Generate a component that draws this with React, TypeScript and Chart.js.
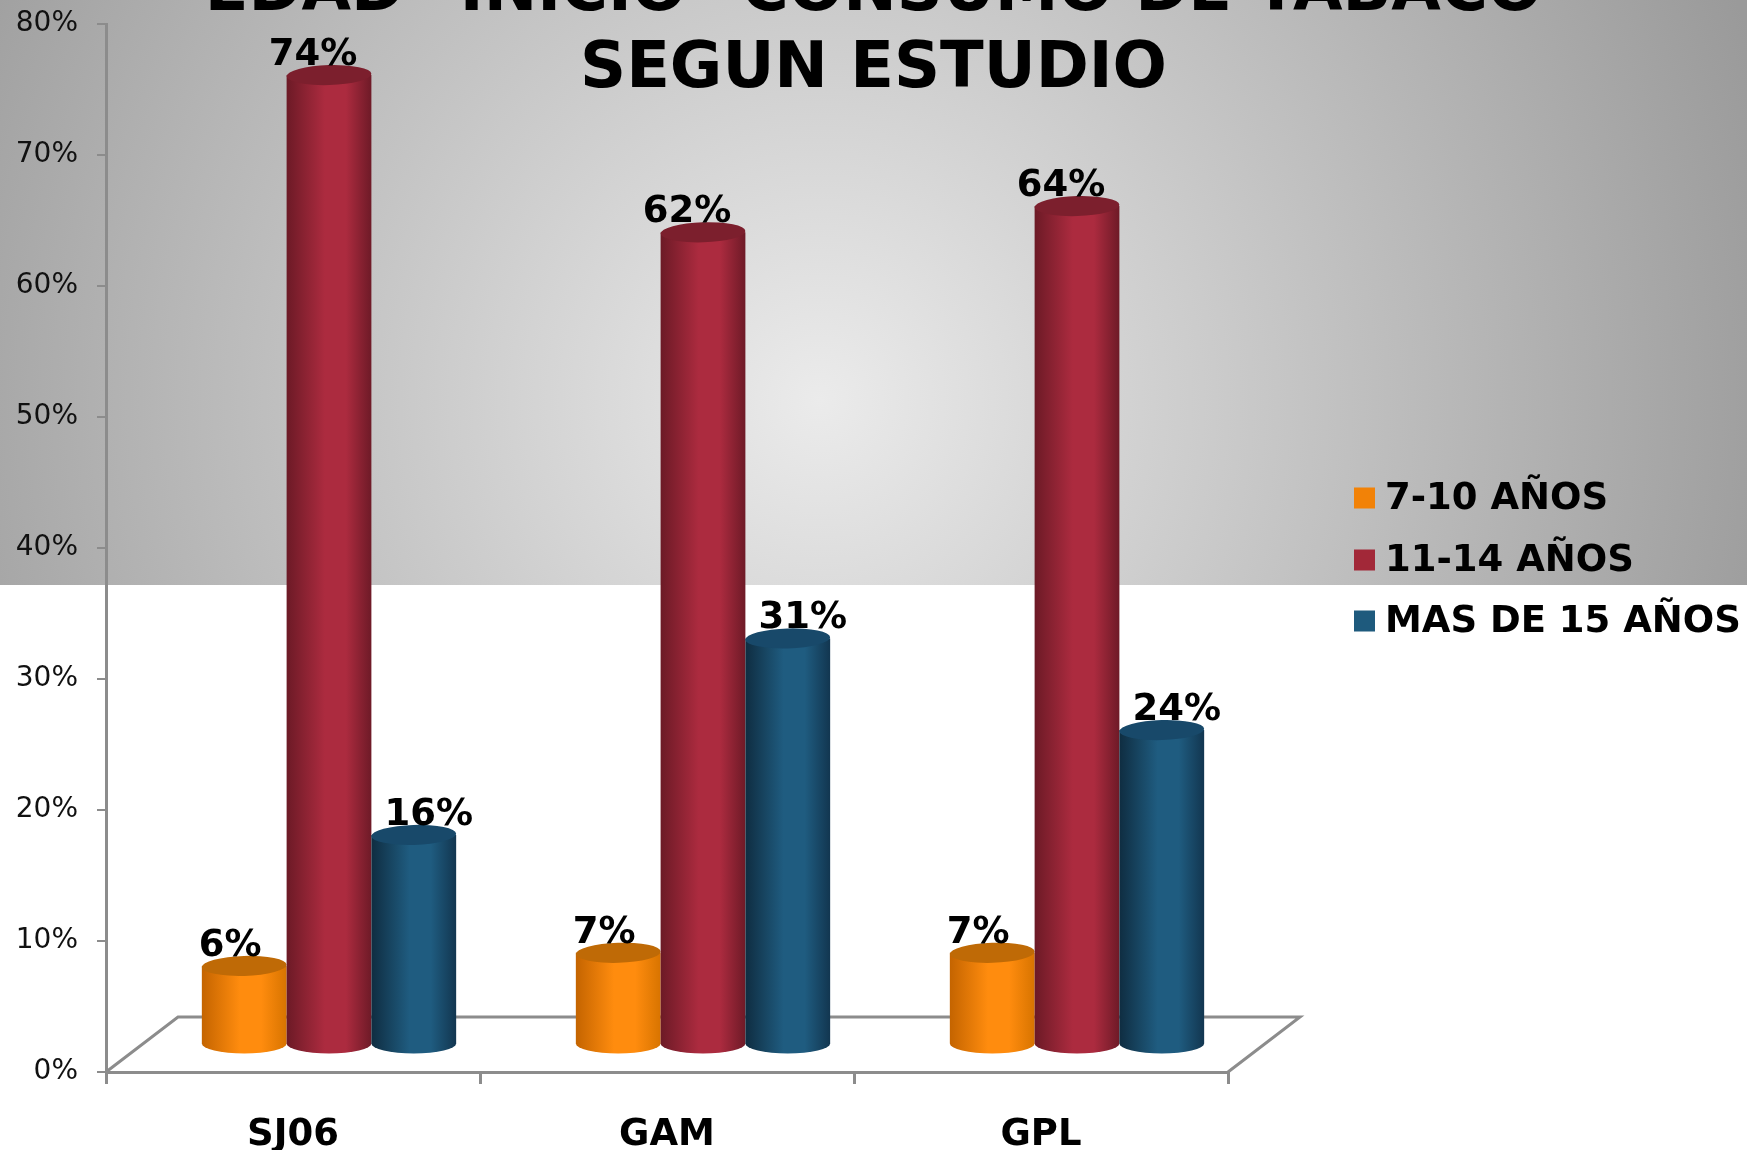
import React, { useEffect, useRef } from "react";
import { Chart, registerables } from "chart.js";

Chart.register(...registerables);

// ---- data ----
const categories = ["SJ06", "GAM", "GPL"];
const seriesNames = ["7-10 AÑOS", "11-14 AÑOS", "MAS DE 15 AÑOS"];
const age7to10 = [6, 7, 7];
const age11to14 = [74, 62, 64];
const age15plus = [16, 31, 24];
const titleLines = ['EDAD "INICIO" CONSUMO DE TABACO', "SEGUN ESTUDIO"];
const yMin = 0;
const yMax = 80;
const yStep = 10;

// ---- styles ----
const W = 1747;
const H = 1150;
const FONT = "'DejaVu Sans', Verdana, sans-serif";
const cylColors = [
  { left: "#c46400", mid: "#ff8c0e", right: "#d87400", top: "#bf6a06", legend: "#f28207" },
  { left: "#6c1a26", mid: "#ac2b3f", right: "#6e1a27", top: "#7c1f2d", legend: "#a22838" },
  { left: "#0f2d41", mid: "#1f5c80", right: "#123650", top: "#18496a", legend: "#1e5a7d" },
];
const depthX = 72;
const depthY = -55;
const labelDx = [-14, -16, 15];

const threeDPlugin = {
  id: "threeD",
  beforeDraw(chart: any) {
    const ctx = chart.ctx as CanvasRenderingContext2D;
    ctx.save();
    const g = ctx.createRadialGradient(820, 400, 0, 820, 400, 1000);
    g.addColorStop(0, "#ebebeb");
    g.addColorStop(1, "#9a9a9a");
    ctx.fillStyle = g;
    ctx.fillRect(0, 0, chart.width, 585);
    ctx.restore();
  },
  beforeDatasetsDraw(chart: any) {
    const ctx = chart.ctx as CanvasRenderingContext2D;
    const a = chart.chartArea;
    // floor
    ctx.save();
    ctx.strokeStyle = "#8c8c8c";
    ctx.lineWidth = 3;
    ctx.beginPath();
    ctx.moveTo(a.left, a.bottom);
    ctx.lineTo(a.left + depthX, a.bottom + depthY);
    ctx.lineTo(a.right + depthX, a.bottom + depthY);
    ctx.lineTo(a.right, a.bottom);
    ctx.stroke();
    ctx.restore();

    const dx = depthX / 2;
    const dy = depthY / 2;
    const ry = 10;
    chart.data.datasets.forEach((ds: any, i: number) => {
      const meta = chart.getDatasetMeta(i);
      const c = cylColors[i];
      meta.data.forEach((el: any, j: number) => {
        const p = el.getProps(["x", "y", "base", "width"], true);
        const cx = p.x + dx;
        const top = p.y + dy;
        const bottom = p.base + dy;
        const rx = p.width / 2;
        const l = cx - rx;
        const r = cx + rx;
        ctx.save();
        const g = ctx.createLinearGradient(l, 0, r, 0);
        g.addColorStop(0, c.left);
        g.addColorStop(0.45, c.mid);
        g.addColorStop(0.7, c.mid);
        g.addColorStop(1, c.right);
        ctx.fillStyle = g;
        ctx.beginPath();
        ctx.moveTo(l, top);
        ctx.lineTo(l, bottom);
        ctx.ellipse(cx, bottom, rx, ry, 0, Math.PI, 0, true);
        ctx.lineTo(r, top);
        ctx.closePath();
        ctx.fill();
        ctx.fillStyle = c.top;
        ctx.beginPath();
        ctx.ellipse(cx, top, rx, ry, -0.03, 0, Math.PI * 2);
        ctx.fill();
        // value label
        ctx.fillStyle = "#000";
        ctx.font = `bold 37px ${FONT}`;
        ctx.textAlign = "center";
        ctx.textBaseline = "alphabetic";
        ctx.fillText(`${ds.data[j]}%`, cx + labelDx[i], top - 10);
        ctx.restore();
      });
    });
    return false;
  },
  afterDraw(chart: any) {
    const ctx = chart.ctx as CanvasRenderingContext2D;
    ctx.save();
    // title
    ctx.fillStyle = "#000";
    ctx.font = `bold 64px ${FONT}`;
    ctx.textAlign = "center";
    ctx.textBaseline = "alphabetic";
    ctx.fillText(titleLines[0], chart.width / 2, 10);
    ctx.fillText(titleLines[1], chart.width / 2, 87);
    // legend
    const lx = 1354;
    const rows = [498, 560, 621];
    ctx.font = `bold 37px ${FONT}`;
    ctx.textAlign = "left";
    ctx.textBaseline = "middle";
    chart.data.datasets.forEach((ds: any, i: number) => {
      ctx.fillStyle = cylColors[i].legend;
      ctx.fillRect(lx, rows[i] - 10.5, 21, 21);
      ctx.fillStyle = "#000";
      ctx.fillText(ds.label, lx + 31, rows[i] + 1);
    });
    ctx.restore();
  },
};

export default function App() {
  const ref = useRef<HTMLCanvasElement>(null);
  useEffect(() => {
    document.body.style.margin = "0";
    const chart = new Chart(ref.current!, {
      type: "bar",
      data: {
        labels: categories,
        datasets: [
          { label: seriesNames[0], data: age7to10, backgroundColor: cylColors[0].mid },
          { label: seriesNames[1], data: age11to14, backgroundColor: cylColors[1].mid },
          { label: seriesNames[2], data: age15plus, backgroundColor: cylColors[2].mid },
        ],
      },
      options: {
        animation: false,
        responsive: false,
        devicePixelRatio: 1,
        events: [],
        datasets: { bar: { categoryPercentage: 0.68, barPercentage: 1 } },
        layout: { padding: { left: 0, right: 519, top: 24, bottom: 0 } },
        plugins: {
          legend: { display: false },
          title: { display: false },
          tooltip: { enabled: false },
        },
        scales: {
          x: {
            grid: { offset: true, drawOnChartArea: false, tickLength: 12, color: "#8c8c8c", lineWidth: 3 },
            border: { color: "#8c8c8c", width: 3 },
            ticks: { font: { family: FONT, size: 37, weight: "bold" }, color: "#000", padding: 29 },
            afterFit: (s: any) => {
              s.height = 78;
              s.paddingLeft = 0;
              s.paddingRight = 0;
            },
          },
          y: {
            min: yMin,
            max: yMax,
            ticks: {
              stepSize: yStep,
              callback: (v: any) => `${v}%`,
              font: { family: FONT, size: 28 },
              color: "#111",
              padding: 19,
            },
            grid: { drawOnChartArea: false, tickLength: 9, color: "#8c8c8c", lineWidth: 2 },
            border: { color: "#8c8c8c", width: 3 },
            afterFit: (s: any) => {
              s.width = 106;
              s.paddingTop = 0;
              s.paddingBottom = 0;
            },
          },
        },
      },
      plugins: [threeDPlugin],
    } as any);
    return () => chart.destroy();
  }, []);
  return (
    <div style={{ position: "absolute", left: 0, top: 0, width: W, height: H }}>
      <canvas ref={ref} width={W} height={H} style={{ display: "block", width: W, height: H }} />
    </div>
  );
}
